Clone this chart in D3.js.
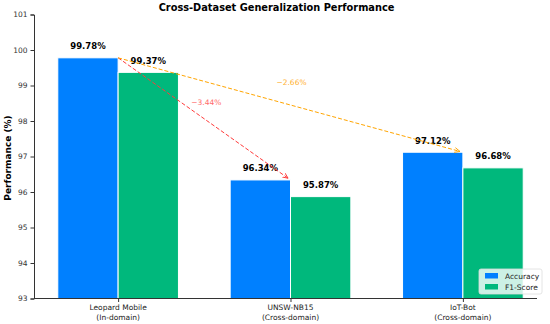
<!DOCTYPE html>
<html><head><meta charset="utf-8">
<script src="https://cdn.jsdelivr.net/npm/d3@7"></script>
<style>body{margin:0;background:#fff;} svg{display:block;font-family:"DejaVu Sans",sans-serif;}</style>
</head><body>
<svg id="c" width="550" height="324"></svg>
<script>
const categories = [["Leopard Mobile","(In-domain)"],["UNSW-NB15","(Cross-domain)"],["IoT-Bot","(Cross-domain)"]];
const accuracy = [99.78, 96.34, 97.12];
const f1 = [99.37, 95.87, 96.68];
const seriesNames = ["Accuracy","F1-Score"];
const seriesColors = ["#0080FF","#00B87C"];
const yTicks = [93,94,95,96,97,98,99,100,101];
const drops = [{from:0,to:1,label:"\u22123.44%",color:"#ff3b3b",text:"#ff6b6b"},{from:0,to:2,label:"\u22122.66%",color:"#ffa500",text:"#ffb030"}];

const svg = d3.select("#c");
const x = d3.scaleLinear().domain([-0.488, 2.43]).range([34, 537]);
const y = d3.scaleLinear().domain([93, 101]).range([298.5, 14.5]);
const bw = 0.35;

// title
svg.append("text").attr("x",276.5).attr("y",11).attr("text-anchor","middle")
  .attr("font-size",9.8).attr("font-weight","bold").text("Cross-Dataset Generalization Performance");

// y label
svg.append("text").attr("transform","translate(10.5,158) rotate(-90)").attr("text-anchor","middle")
  .attr("font-size",9).attr("font-weight","bold").text("Performance (%)");

// bars
const series = [accuracy, f1];
series.forEach((vals, s) => {
  svg.append("g").selectAll("rect").data(vals).join("rect")
    .attr("x", (d,i) => x(i + (s===0 ? -bw : 0)))
    .attr("width", x(bw) - x(0))
    .attr("y", d => y(d))
    .attr("height", d => y(93) - y(d))
    .attr("fill", seriesColors[s])
    .attr("stroke", "#fff").attr("stroke-width", 1);
  svg.append("g").selectAll("text").data(vals).join("text")
    .attr("x", (d,i) => x(i + (s===0 ? -bw/2 : bw/2)))
    .attr("y", d => y(d) - 8.5)
    .attr("text-anchor","middle").attr("font-size",8.5).attr("font-weight","bold")
    .text(d => d.toFixed(2) + "%");
});

// axes
const yAxis = d3.axisLeft(y).tickValues(yTicks).tickSize(3.5).tickPadding(3).tickFormat(d3.format("d"));
const gy = svg.append("g").attr("transform","translate(34,0)").call(yAxis);
gy.select(".domain").attr("stroke","#333").attr("stroke-width",1);
gy.selectAll(".tick line").attr("stroke","#333");
gy.selectAll(".tick text").attr("font-size",7.5).attr("fill","#333").attr("font-family","DejaVu Sans");

const xAxis = d3.axisBottom(x).tickValues([0,1,2]).tickSize(3.5).tickFormat("");
const gx = svg.append("g").attr("transform","translate(0,298.5)").call(xAxis);
gx.select(".domain").attr("stroke","#333").attr("stroke-width",1).attr("d", `M34,0H537`);
gx.selectAll(".tick line").attr("stroke","#333");
categories.forEach((c,i) => {
  c.forEach((line,j) => {
    svg.append("text").attr("x", x(i)).attr("y", 310 + j*9.5).attr("text-anchor","middle")
      .attr("font-size",7.5).attr("fill","#222").text(line);
  });
});

// arrows
const defs = svg.append("defs");
drops.forEach((dr,k) => {
  defs.append("marker").attr("id","ah"+k).attr("viewBox","0 0 10 10").attr("refX",9).attr("refY",5)
    .attr("markerWidth",6).attr("markerHeight",6).attr("orient","auto-start-reverse")
    .append("path").attr("d","M0,1L9,5L0,9").attr("fill","none").attr("stroke",dr.color).attr("stroke-width",1.5);
  const x1 = x(dr.from), y1 = y(accuracy[dr.from]);
  let x2 = x(dr.to), y2 = y(accuracy[dr.to]);
  const dx = x2-x1, dy = y2-y1, L = Math.hypot(dx,dy);
  x2 -= dx/L*3; y2 -= dy/L*3;
  svg.append("line").attr("x1",x1).attr("y1",y1).attr("x2",x2).attr("y2",y2)
    .attr("stroke",dr.color).attr("stroke-width",1).attr("stroke-dasharray","4,2")
    .attr("marker-end","url(#ah"+k+")");
  const mx = (x(dr.from)+x(dr.to))/2, my = (y(accuracy[dr.from])+y(accuracy[dr.to]))/2;
  svg.append("text").attr("x", k===0 ? mx+2 : mx+1).attr("y", k===0 ? my-14 : my-20)
    .attr("text-anchor","middle").attr("font-size",7.5).attr("fill",dr.text).text(dr.label);
});

// legend
const lg = svg.append("g").attr("transform","translate(479,269)");
lg.append("rect").attr("width",63).attr("height",25).attr("rx",2)
  .attr("fill","#fff").attr("fill-opacity",0.8).attr("stroke","#ddd").attr("stroke-width",0.8);
seriesNames.forEach((n,i) => {
  lg.append("rect").attr("x",6).attr("y",4+i*11).attr("width",13).attr("height",5.5).attr("fill",seriesColors[i]);
  lg.append("text").attr("x",26).attr("y",9.5+i*11).attr("font-size",7.5).attr("fill","#222").text(n);
});
</script>
</body></html>
